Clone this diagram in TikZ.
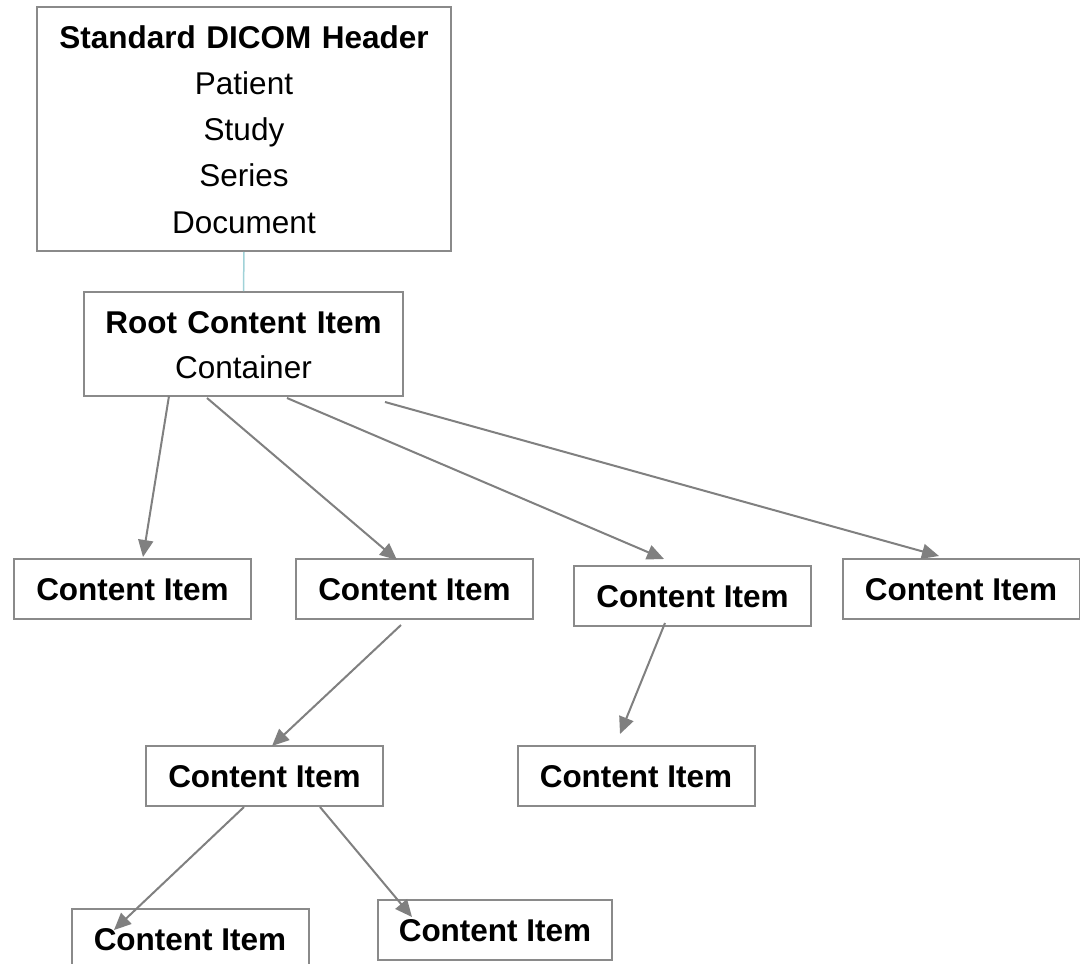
\documentclass[tikz,border=0pt]{standalone}
\usepackage{fontspec}
\setmainfont{Liberation Sans}
\usetikzlibrary{arrows.meta,calc}
\definecolor{boxgray}{RGB}{138,138,138}
\definecolor{arrgray}{RGB}{128,128,128}
\definecolor{linkblue}{RGB}{160,210,216}
\begin{document}
\begin{tikzpicture}[x=1pt,y=-1pt,
  box/.style={draw=boxgray, line width=2pt, inner sep=0pt, anchor=base, align=center, fill=white},
  tbox/.style={box, font=\fontsize{31.5}{45}\selectfont},
  cbox/.style={box, minimum width=237pt, text height=41pt, text depth=19pt, font=\fontsize{31.5}{45}\selectfont\bfseries},
  arr/.style={draw=arrgray, line width=2pt, -{Triangle[length=17pt,width=15pt]}},
  link/.style={draw=linkblue, line width=1.5pt}
]
\useasboundingbox[fill=white] (0,0) rectangle (1080,964);

\node[tbox, text width=414pt, text height=41pt, text depth=203pt, font=\fontsize{31.5}{46.3}\selectfont] (hdr) at (244,48)
  {\textbf{Standard DICOM Header}\\ Patient\\ Study\\ Series\\ Document};
\node[tbox, text width=319pt, text height=41pt, text depth=63pt] (root) at (243.5,333)
  {\textbf{Root Content Item}\\ Container};

\node[cbox] (A) at (132.5,600) {Content Item};
\node[cbox] (B) at (414.5,600) {Content Item};
\node[cbox] (C) at (692.5,607) {Content Item};
\node[cbox] (D) at (961,600) {Content Item};
\node[cbox] (E) at (264.5,787) {Content Item};
\node[cbox] (F) at (636,787) {Content Item};
\node[cbox] (G) at (190,950) {Content Item};
\node[cbox, minimum width=234pt] (H) at (495,941) {Content Item};

\draw[link] (hdr.south) -- (root.north);

\draw[arr] ($(root.south west)+(86,-1)$) -- ($(A.north west)+(130,-1)$);
\draw[arr] ($(root.south west)+(124,1)$) -- ($(B.north west)+(102,2)$);
\draw[arr] ($(root.south west)+(204,1)$) -- ($(C.north west)+(91,-6)$);
\draw[arr] ($(root.south west)+(302,5)$) -- ($(D.north west)+(97.5,-2)$);
\draw[arr] ($(B.south west)+(106,5)$) -- ($(E.north west)+(127,1)$);
\draw[arr] ($(C.south west)+(92,-4)$) -- ($(F.north west)+(103.5,-11)$);
\draw[arr] ($(E.south west)+(99,0)$) -- ($(G.north west)+(43.5,22)$);
\draw[arr] ($(E.south west)+(175,0)$) -- ($(H.north west)+(35,18)$);
\end{tikzpicture}
\end{document}
